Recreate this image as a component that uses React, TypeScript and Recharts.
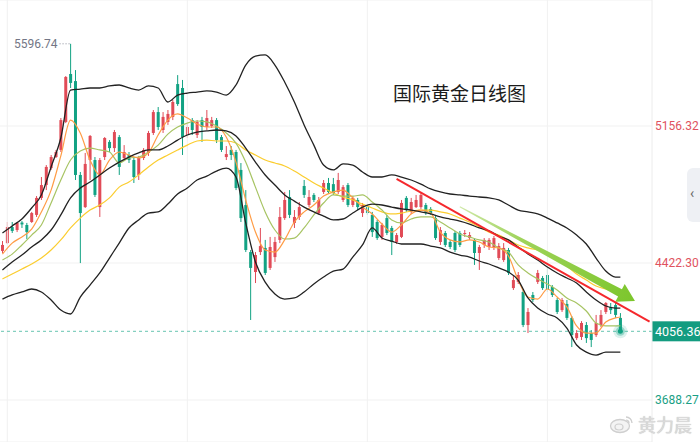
import React from "react";
import {
  ComposedChart,
  Bar,
  Line,
  XAxis,
  YAxis,
  CartesianGrid,
  ReferenceLine,
  ReferenceDot,
} from "recharts";

// daily gold candles (oldest first)
const opens = [
  4487, 4529, 4615, 4599, 4639, 4626, 4642, 4680, 4771, 4840,
  4931, 4990, 5028, 5178, 5435, 5397, 4894, 4722, 4974, 4974,
  4722, 4990, 5071, 5038, 5097, 4985, 5001, 4974, 4894, 4985,
  5012, 5119, 5231, 5135, 5178, 5205, 5381, 5360, 5108, 5188,
  5108, 5188, 5151, 5156, 5188, 5097, 4990, 5028, 5017, 4921,
  4733, 4481, 4374, 4481, 4503, 4396, 4454, 4546, 4663, 4776,
  4637, 4669, 4835, 4733, 4787, 4690, 4803, 4851, 4845, 4803,
  4760, 4840, 4733, 4760, 4690, 4722, 4680, 4642, 4562, 4663,
  4610, 4535, 4562, 4771, 4696, 4722, 4722, 4733, 4712, 4663,
  4535, 4583, 4535, 4583, 4583, 4578, 4556, 4546, 4476, 4519,
  4508, 4503, 4449, 4438, 4492, 4288, 4321, 4267, 4090, 4251,
  4321, 4342, 4358, 4294, 4224, 4170, 4203, 4128, 4020, 4026,
  4090, 4047, 4036, 4090, 4160, 4187, 4197, 4128,
];
const highs = [
  4540, 4642, 4642, 4642, 4647, 4637, 4696, 4781, 4883, 4947,
  5001, 5028, 5199, 5424, 5596.74, 5456, 4910, 5012, 5108, 4990,
  4985, 5097, 5081, 5135, 5108, 5054, 5017, 4985, 4996, 5038,
  5130, 5242, 5258, 5231, 5242, 5296, 5429, 5403, 5167, 5199,
  5188, 5205, 5242, 5205, 5199, 5108, 5049, 5049, 5028, 4958,
  4813, 4492, 4481, 4610, 4546, 4562, 4562, 4722, 4803, 4813,
  4706, 4749, 4867, 4813, 4797, 4776, 4867, 4878, 4878, 4905,
  4840, 4851, 4781, 4771, 4744, 4733, 4696, 4653, 4637, 4680,
  4621, 4583, 4760, 4781, 4771, 4787, 4797, 4744, 4722, 4674,
  4615, 4594, 4546, 4594, 4594, 4599, 4588, 4556, 4519, 4556,
  4556, 4567, 4529, 4529, 4503, 4358, 4374, 4278, 4181, 4267,
  4385, 4353, 4401, 4304, 4235, 4235, 4224, 4138, 4063, 4111,
  4106, 4063, 4144, 4170, 4213, 4208, 4208, 4154,
];
const lows = [
  4476, 4524, 4583, 4588, 4610, 4551, 4637, 4669, 4760, 4813,
  4921, 4985, 5017, 5172, 5360, 4867, 4422, 4717, 4867, 4776,
  4669, 4974, 5017, 5017, 4894, 4974, 4958, 4851, 4867, 4974,
  4996, 5108, 5135, 5119, 5162, 5188, 5264, 5001, 5092, 5108,
  5092, 5071, 5135, 5146, 5065, 5017, 4974, 4974, 4813, 4642,
  4481, 4117, 4315, 4465, 4358, 4385, 4428, 4529, 4653, 4663,
  4610, 4653, 4771, 4722, 4749, 4680, 4792, 4792, 4787, 4792,
  4749, 4722, 4722, 4706, 4669, 4680, 4562, 4546, 4546, 4572,
  4465, 4524, 4556, 4696, 4685, 4717, 4712, 4680, 4680, 4546,
  4519, 4508, 4497, 4481, 4508, 4562, 4546, 4412, 4385, 4503,
  4492, 4492, 4438, 4428, 4358, 4278, 4310, 4079, 4047, 4213,
  4310, 4278, 4267, 4240, 4149, 4160, 4117, 3972, 4010, 4010,
  3994, 3972, 4026, 4079, 4149, 4149, 4128, 4047,
];
const closes = [
  4519, 4615, 4594, 4637, 4629, 4588, 4690, 4771, 4840, 4937,
  4990, 5017, 5188, 5419, 5387, 4894, 4690, 4953, 5103, 4787,
  4974, 5092, 5038, 5124, 4937, 5017, 4974, 4883, 4985, 5028,
  5119, 5231, 5151, 5205, 5221, 5285, 5274, 5097, 5151, 5135,
  5178, 5151, 5199, 5188, 5081, 5028, 5006, 5001, 4824, 4663,
  4492, 4396, 4465, 4513, 4369, 4508, 4535, 4669, 4760, 4680,
  4669, 4722, 4787, 4776, 4760, 4760, 4851, 4803, 4797, 4867,
  4829, 4733, 4771, 4722, 4733, 4690, 4588, 4556, 4626, 4583,
  4535, 4572, 4744, 4706, 4749, 4760, 4787, 4690, 4690, 4556,
  4599, 4519, 4508, 4492, 4519, 4583, 4572, 4476, 4508, 4546,
  4546, 4556, 4513, 4503, 4369, 4331, 4358, 4090, 4160, 4224,
  4369, 4288, 4278, 4251, 4160, 4224, 4128, 4036, 4047, 4101,
  4020, 4010, 4101, 4144, 4208, 4170, 4144, 4056.36,
];

// indicator lines read every other session, plus the last one
const bollUp = [
  4583, 4621, 4658, 4717, 4787, 4937, 5092, 5349, 5354, 5360,
  5360, 5371, 5376, 5360, 5349, 5371, 5360, 5285, 5322, 5333,
  5338, 5344, 5338, 5322, 5376, 5483, 5531, 5537, 5483, 5392,
  5285, 5162, 5054, 4947, 4921, 4953, 4947, 4910, 4883, 4883,
  4894, 4883, 4867, 4845, 4819, 4803, 4792, 4787, 4781, 4776,
  4771, 4760, 4733, 4706, 4696, 4685, 4663, 4637, 4610, 4572,
  4524, 4449, 4379, 4347, 4347,
];
const bollMid = [
  4385, 4428, 4465, 4508, 4546, 4599, 4680, 4771, 4824, 4856,
  4894, 4931, 4963, 4990, 5012, 5028, 5028, 5049, 5081, 5108,
  5124, 5130, 5135, 5130, 5103, 5038, 4963, 4894, 4840, 4787,
  4754, 4722, 4696, 4674, 4653, 4658, 4690, 4722, 4738, 4733,
  4722, 4712, 4706, 4696, 4685, 4669, 4658, 4647, 4631, 4610,
  4594, 4567, 4546, 4508, 4471, 4438, 4401, 4369, 4342, 4315,
  4267, 4224, 4192, 4181, 4181,
];
const bollDn = [
  4229, 4251, 4267, 4283, 4267, 4224, 4170, 4149, 4240, 4304,
  4369, 4449, 4529, 4610, 4653, 4690, 4696, 4738, 4792, 4824,
  4867, 4888, 4915, 4931, 4883, 4637, 4428, 4320, 4256, 4229,
  4235, 4267, 4310, 4347, 4379, 4390, 4454, 4519, 4610, 4556,
  4540, 4524, 4524, 4524, 4513, 4503, 4481, 4465, 4454, 4433,
  4417, 4396, 4374, 4331, 4235, 4181, 4149, 4128, 4074, 3983,
  3945, 3929, 3945, 3945, 3945,
];
const ma5 = [
  4470, 4529, 4562, 4604, 4696, 4813, 4996, 5188, 5119, 4974,
  4894, 4974, 5017, 5001, 4985, 5012, 5108, 5188, 5221, 5199,
  5167, 5151, 5151, 5097, 4963, 4760, 4588, 4492, 4481, 4546,
  4642, 4696, 4733, 4781, 4803, 4813, 4771, 4722, 4685, 4631,
  4588, 4626, 4685, 4706, 4690, 4588, 4546, 4535, 4546, 4535,
  4508, 4503, 4460, 4331, 4240, 4229, 4283, 4240, 4187, 4085,
  4047, 4047, 4106, 4128, 4133,
];
const ma10 = [
  4438, 4470, 4519, 4572, 4626, 4744, 4867, 4974, 5022, 5038,
  5028, 5017, 4958, 4985, 4990, 5017, 5054, 5113, 5151, 5172,
  5183, 5178, 5156, 5119, 5065, 4963, 4829, 4696, 4599, 4551,
  4556, 4610, 4680, 4744, 4787, 4781, 4781, 4787, 4749, 4706,
  4653, 4637, 4658, 4669, 4669, 4642, 4610, 4578, 4562, 4546,
  4535, 4503, 4481, 4412, 4369, 4337, 4310, 4278, 4235, 4208,
  4165, 4101, 4085, 4085, 4085,
];
const ma30 = [
  4337, 4363, 4390, 4417, 4449, 4492, 4546, 4610, 4663, 4706,
  4733, 4771, 4829, 4856, 4894, 4937, 4974, 5001, 5028, 5054,
  5076, 5081, 5076, 5076, 5065, 5028, 5001, 4974, 4958, 4942,
  4915, 4883, 4851, 4824, 4797, 4776, 4760, 4738, 4717, 4696,
  4685, 4690, 4701, 4706, 4706, 4696, 4685, 4663, 4642, 4615,
  4588, 4572, 4546, 4519, 4503, 4492, 4470, 4444, 4406, 4363,
  4331, 4299, 4283, 4267, 4262,
];

const priceTicks = [3688.27, 4422.3, 5156.32];
const gridDays = [1, 38, 75, 112];
const redTrend = [
  { i: 81, price: 4873 },
  { i: 133, price: 4108 },
];
const greenArrow = [
  { i: 94, price: 4724 },
  { i: 130, price: 4219 },
];
const peakIndex = 14;
const blankSlots = 6;

const lastClose = closes[closes.length - 1];
const RED = "#e14b57";
const GREEN = "#12a283";

const sampled = (arr: number[], i: number) => {
  if (i === closes.length - 1) return arr[arr.length - 1];
  if (i % 2 === 0 && i < closes.length - 1) return arr[i / 2];
  return null;
};

const table = Array.from({ length: closes.length + blankSlots }, (_, i) => {
  if (i >= closes.length) return { i };
  return {
    i,
    open: opens[i],
    high: highs[i],
    low: lows[i],
    close: closes[i],
    range: [lows[i], highs[i]],
    bollUp: sampled(bollUp, i),
    bollMid: sampled(bollMid, i),
    bollDn: sampled(bollDn, i),
    ma5: sampled(ma5, i),
    ma10: sampled(ma10, i),
    ma30: sampled(ma30, i),
  };
});

const Candle = (props: any) => {
  const { x, y, width, height, payload } = props;
  if (payload == null || payload.open == null) return null;
  const { open, close, high, low } = payload;
  const top = Math.min(y, y + height);
  const h = Math.abs(height);
  const span = high - low || 1;
  const py = (v: number) => top + ((high - v) / span) * h;
  const color = close >= open ? RED : GREEN;
  const cx = x + width / 2;
  const bodyTop = py(Math.max(open, close));
  const bodyH = Math.max(1, py(Math.min(open, close)) - bodyTop);
  return (
    <g>
      <line x1={cx} x2={cx} y1={top} y2={top + h} stroke={color} strokeWidth={1} />
      <rect x={x} y={bodyTop} width={width} height={bodyH} fill={color} />
    </g>
  );
};

const PriceTick = (props: any) => {
  const { x, y, payload } = props;
  const v = payload.value;
  return (
    <text
      x={x}
      y={y}
      dx={-5}
      dy={4}
      fill={v > lastClose ? "#e0525e" : "#1a9f85"}
      fontSize={12}
      fontFamily="Roboto, sans-serif"
      textAnchor="start"
    >
      {v.toFixed(2)}
    </text>
  );
};

const Arrow = (props: any) => {
  const { x1, y1, x2, y2 } = props;
  const dx = x2 - x1;
  const dy = y2 - y1;
  const len = Math.sqrt(dx * dx + dy * dy);
  const ux = dx / len;
  const uy = dy / len;
  const nx = -uy;
  const ny = ux;
  const headLen = 17;
  const bx = x2 - ux * headLen;
  const by = y2 - uy * headLen;
  const pts = [
    [x1 + nx * 0.5, y1 + ny * 0.5],
    [bx + nx * 4, by + ny * 4],
    [bx + nx * 10, by + ny * 10],
    [x2, y2],
    [bx - nx * 10, by - ny * 10],
    [bx - nx * 4, by - ny * 4],
    [x1 - nx * 0.5, y1 - ny * 0.5],
  ];
  return (
    <g>
      <defs>
        <linearGradient id="arrowFill" x1={x1} y1={y1} x2={x2} y2={y2} gradientUnits="userSpaceOnUse">
          <stop offset="0" stopColor="#cfe8a8" />
          <stop offset="0.35" stopColor="#9fd35a" />
          <stop offset="1" stopColor="#7cc62c" />
        </linearGradient>
      </defs>
      <polygon points={pts.map((p) => p.join(",")).join(" ")} fill="url(#arrowFill)" />
    </g>
  );
};

const PeakMark = (props: any) => {
  const { cx, cy } = props;
  return (
    <g>
      <line x1={cx - 11} x2={cx - 1} y1={cy} y2={cy} stroke="#8a8d99" strokeDasharray="1 2" />
      <text x={cx - 13} y={cy} dy={4} textAnchor="end" fontSize={12} fill="#737685" fontFamily="Roboto, sans-serif">
        {highs[peakIndex].toFixed(2)}
      </text>
    </g>
  );
};

const Glow = (props: any) => {
  const { cx, cy } = props;
  return (
    <g>
      <circle cx={cx} cy={cy} r={7} fill={GREEN} fillOpacity={0.15} />
      <circle cx={cx} cy={cy} r={4.5} fill={GREEN} fillOpacity={0.35} />
      <circle cx={cx} cy={cy} r={2.5} fill={GREEN} />
    </g>
  );
};

const PriceBox = (props: any) => {
  const { viewBox } = props;
  const bx = viewBox.x + viewBox.width;
  return (
    <g>
      <rect x={bx} y={viewBox.y - 10} width={48} height={20} fill="#139c80" />
      <text x={bx + 3} y={viewBox.y} dy={4.5} fill="#fff" fontSize={12.5} fontFamily="Roboto, sans-serif">
        {lastClose.toFixed(2)}
      </text>
    </g>
  );
};

const lineCommon = {
  type: "monotone" as const,
  dot: false,
  activeDot: false,
  connectNulls: true,
  isAnimationActive: false,
};

export default function App() {
  return (
    <div style={{ position: "relative", width: 700, height: 442, background: "#fff", overflow: "hidden" }}>
      <style>{`body{margin:0}`}</style>
      <ComposedChart width={700} height={442} data={table} margin={{ top: 0, right: 0, bottom: 0, left: 0 }}>
        <CartesianGrid stroke="#f1f1f1" vertical={false} />
        <XAxis dataKey="i" type="category" hide />
        <YAxis
          orientation="right"
          width={48}
          domain={[3463.3, 5831.4]}
          allowDataOverflow
          ticks={priceTicks}
          tick={<PriceTick />}
          tickLine={false}
          tickMargin={2}
          axisLine={{ stroke: "#ececec" }}
        />
        {gridDays.map((d) => (
          <ReferenceLine key={d} x={d} stroke="#f1f1f1" />
        ))}
        <ReferenceLine
          y={lastClose}
          stroke="#3fb59c"
          strokeDasharray="3 3"
          strokeWidth={0.8}
          label={<PriceBox />}
        />
        <Bar dataKey="range" barSize={3} shape={<Candle />} activeBar={false} isAnimationActive={false} />
        <Line dataKey="ma30" stroke="#fbcd2f" strokeWidth={1.2} {...lineCommon} />
        <Line dataKey="ma10" stroke="#a7c463" strokeWidth={1.2} {...lineCommon} />
        <Line dataKey="ma5" stroke="#ff9c45" strokeWidth={1.2} {...lineCommon} />
        <Line dataKey="bollUp" stroke="#222" strokeWidth={1.3} {...lineCommon} />
        <Line dataKey="bollMid" stroke="#222" strokeWidth={1.3} {...lineCommon} />
        <Line dataKey="bollDn" stroke="#222" strokeWidth={1.3} {...lineCommon} />
        <ReferenceLine
          segment={[
            { x: greenArrow[0].i, y: greenArrow[0].price },
            { x: greenArrow[1].i, y: greenArrow[1].price },
          ]}
          shape={Arrow}
          ifOverflow="visible"
        />
        <ReferenceLine
          segment={[
            { x: redTrend[0].i, y: redTrend[0].price },
            { x: redTrend[1].i, y: redTrend[1].price },
          ]}
          stroke="#f5282c"
          strokeWidth={2}
          ifOverflow="visible"
        />
        <ReferenceDot x={peakIndex} y={highs[peakIndex]} r={0} shape={PeakMark} ifOverflow="visible" />
        <ReferenceDot x={closes.length - 1} y={lastClose} r={0} shape={Glow} ifOverflow="visible" />
      </ComposedChart>

      <div
        style={{
          position: "absolute",
          left: 393,
          top: 80,
          fontSize: 19,
          lineHeight: "26px",
          color: "#1c1c1c",
          fontFamily: '"Noto Sans CJK SC", sans-serif',
        }}
      >
        国际黄金日线图
      </div>

      <div
        style={{
          position: "absolute",
          left: 687,
          top: 168,
          width: 20,
          height: 54,
          borderRadius: 6,
          background: "#eef0f4",
          color: "#666",
          fontSize: 14,
          fontFamily: "Roboto, sans-serif",
        }}
      >
        <span style={{ position: "absolute", left: 3, top: 17 }}>‹</span>
      </div>

      <div
        style={{
          position: "absolute",
          left: 609,
          top: 411,
          display: "flex",
          alignItems: "center",
          gap: 3,
          color: "#dadada",
          fontSize: 18,
          fontFamily: '"Noto Sans CJK SC", sans-serif',
          textShadow: "0 0 1px #b8b8b8",
        }}
      >
        <svg width={26} height={20} viewBox="0 0 26 20">
          <ellipse cx={11} cy={12} rx={9.5} ry={6.5} fill="#f4f4f4" stroke="#cfcfcf" strokeWidth={1.3} />
          <ellipse cx={10} cy={13} rx={4} ry={3} fill="none" stroke="#cfcfcf" strokeWidth={1.2} />
          <path d="M17 3 a6 6 0 0 1 6 6" fill="none" stroke="#cfcfcf" strokeWidth={1.4} />
          <path d="M17 6 a3 3 0 0 1 3 3" fill="none" stroke="#cfcfcf" strokeWidth={1.2} />
        </svg>
        <span>黄力晨</span>
      </div>
    </div>
  );
}
